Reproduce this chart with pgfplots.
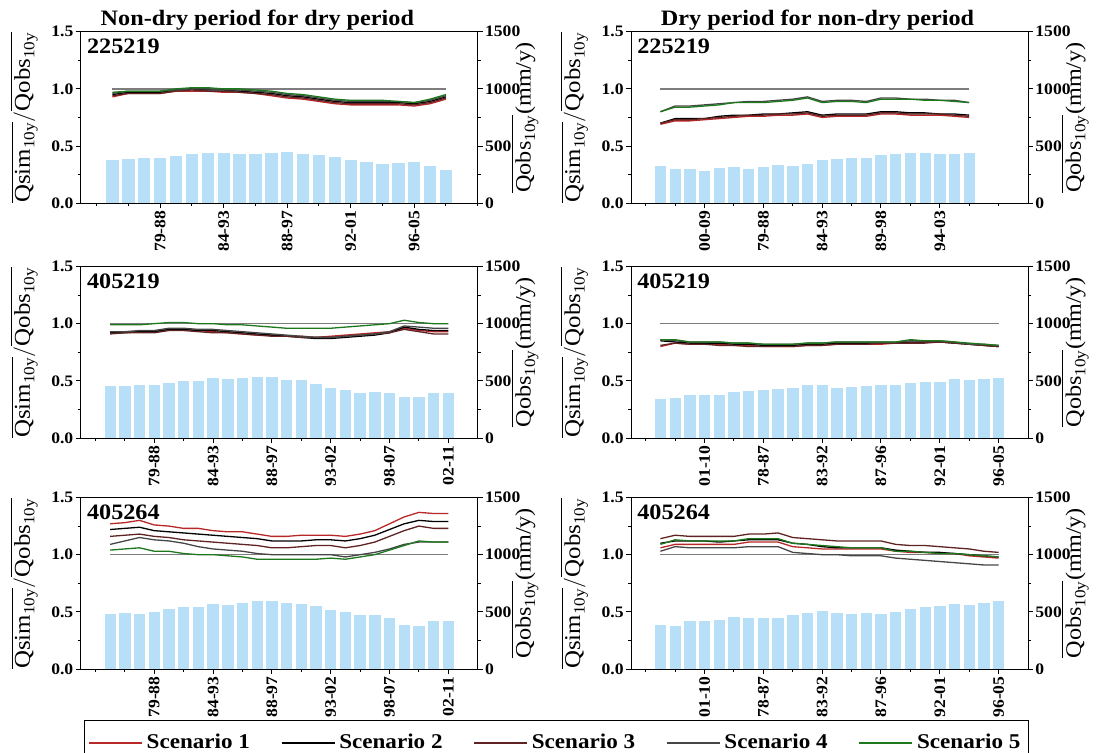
\documentclass[border=0pt]{standalone}
\usepackage{fontspec}
\setmainfont[FakeStretch=1.1]{Liberation Serif}
\usepackage{pgfplots}
\usepackage{pgfplotstable}
\pgfplotsset{compat=1.18}

\definecolor{barblue}{RGB}{183,224,248}
\definecolor{sc1}{RGB}{185,40,40}
\definecolor{sc2}{RGB}{0,0,0}
\definecolor{sc3}{RGB}{95,35,35}
\definecolor{sc4}{RGB}{70,70,70}
\definecolor{sc5}{RGB}{30,120,30}
\definecolor{refgray}{RGB}{125,125,125}

\newcommand{\subtt}[1]{\mbox{\fontsize{7.8}{9}\selectfont #1}}
\newcommand{\qsim}{\overline{\mbox{Qsim}_{\subtt{10y}}}}
\newcommand{\qobs}{\overline{\mbox{Qobs}_{\subtt{10y}}}}

% 225219, non-dry period for dry period
\pgfplotstableread{
x bar s1 s2 s3 s4 s5
1 380 0.93 0.95 0.94 0.96 0.97
2 389 0.96 0.97 0.96 0.98 0.98
3 398 0.96 0.97 0.96 0.98 0.98
4 398 0.96 0.97 0.96 0.98 0.98
5 421 0.98 0.99 0.98 0.99 1.00
6 439 0.98 1.00 0.99 1.00 1.01
7 444 0.98 0.99 0.98 1.00 1.01
8 444 0.97 0.99 0.98 0.99 1.00
9 439 0.97 0.98 0.97 0.99 1.00
10 439 0.96 0.97 0.96 0.98 0.99
11 444 0.94 0.96 0.95 0.97 0.98
12 453 0.92 0.94 0.93 0.95 0.96
13 439 0.91 0.93 0.92 0.94 0.95
14 430 0.89 0.91 0.90 0.92 0.93
15 409 0.87 0.89 0.88 0.90 0.91
16 380 0.86 0.88 0.87 0.89 0.90
17 363 0.86 0.88 0.87 0.89 0.90
18 348 0.86 0.88 0.87 0.89 0.90
19 357 0.86 0.88 0.87 0.89 0.89
20 363 0.85 0.87 0.86 0.88 0.88
21 333 0.87 0.89 0.88 0.90 0.91
22 298 0.91 0.93 0.92 0.94 0.95
}\tA
% 225219, dry period for non-dry period
\pgfplotstableread{
x bar s1 s2 s3 s4 s5
1 333 0.69 0.70 0.70 0.80 0.80
2 301 0.72 0.74 0.73 0.85 0.84
3 301 0.72 0.74 0.73 0.85 0.84
4 284 0.73 0.74 0.74 0.86 0.85
5 310 0.74 0.76 0.75 0.87 0.86
6 319 0.75 0.77 0.76 0.88 0.88
7 307 0.76 0.77 0.77 0.89 0.88
8 325 0.76 0.78 0.77 0.89 0.88
9 339 0.77 0.78 0.78 0.90 0.89
10 333 0.77 0.79 0.78 0.91 0.90
11 348 0.78 0.80 0.79 0.93 0.92
12 380 0.75 0.77 0.76 0.89 0.88
13 392 0.76 0.78 0.77 0.90 0.89
14 401 0.76 0.78 0.77 0.90 0.89
15 401 0.76 0.78 0.77 0.89 0.88
16 424 0.78 0.80 0.79 0.92 0.91
17 439 0.78 0.80 0.79 0.92 0.91
18 447 0.77 0.79 0.78 0.91 0.91
19 447 0.77 0.79 0.78 0.91 0.90
20 439 0.77 0.78 0.78 0.90 0.90
21 439 0.76 0.78 0.77 0.90 0.89
22 447 0.75 0.77 0.76 0.88 0.88
}\tB
% 405219, non-dry period for dry period
\pgfplotstableread{
x bar s1 s2 s3 s4 s5
1 457 0.92 0.92 0.91 0.93 0.99
2 462 0.93 0.92 0.92 0.93 0.99
3 471 0.93 0.93 0.92 0.94 0.99
4 471 0.93 0.93 0.92 0.94 1.00
5 486 0.95 0.95 0.94 0.96 1.01
6 500 0.95 0.95 0.94 0.96 1.01
7 500 0.94 0.94 0.93 0.95 1.00
8 526 0.93 0.94 0.92 0.95 1.00
9 517 0.92 0.93 0.92 0.94 0.99
10 526 0.91 0.92 0.91 0.93 0.99
11 535 0.90 0.91 0.90 0.92 0.98
12 535 0.90 0.90 0.89 0.91 0.97
13 509 0.89 0.89 0.89 0.90 0.96
14 509 0.89 0.88 0.88 0.89 0.96
15 477 0.88 0.87 0.88 0.88 0.96
16 439 0.89 0.87 0.88 0.88 0.96
17 422 0.90 0.88 0.89 0.89 0.97
18 396 0.91 0.89 0.90 0.90 0.98
19 405 0.92 0.90 0.91 0.91 0.99
20 396 0.93 0.92 0.92 0.93 1.00
21 361 0.96 0.97 0.95 0.98 1.03
22 361 0.94 0.95 0.93 0.97 1.01
23 396 0.93 0.94 0.91 0.96 1.00
24 396 0.93 0.94 0.91 0.96 1.00
}\tC
% 405219, dry period for non-dry period
\pgfplotstableread{
x bar s1 s2 s3 s4 s5
1 350 0.80 0.85 0.81 0.86 0.86
2 358 0.83 0.84 0.83 0.85 0.86
3 384 0.82 0.83 0.82 0.84 0.84
4 384 0.82 0.83 0.82 0.84 0.84
5 384 0.82 0.83 0.81 0.84 0.84
6 410 0.81 0.82 0.81 0.83 0.83
7 419 0.81 0.82 0.80 0.83 0.83
8 428 0.80 0.81 0.80 0.82 0.82
9 436 0.80 0.81 0.80 0.82 0.82
10 445 0.80 0.81 0.80 0.82 0.82
11 465 0.81 0.82 0.81 0.83 0.83
12 465 0.81 0.82 0.81 0.83 0.83
13 445 0.82 0.83 0.82 0.84 0.84
14 454 0.82 0.83 0.82 0.84 0.84
15 460 0.82 0.83 0.82 0.84 0.84
16 465 0.82 0.83 0.83 0.84 0.84
17 465 0.83 0.83 0.83 0.84 0.84
18 483 0.83 0.84 0.83 0.85 0.86
19 497 0.84 0.84 0.83 0.85 0.85
20 497 0.84 0.84 0.84 0.85 0.85
21 523 0.83 0.83 0.83 0.84 0.84
22 509 0.82 0.82 0.82 0.82 0.83
23 517 0.81 0.81 0.81 0.82 0.82
24 532 0.80 0.80 0.80 0.81 0.81
}\tD
% 405264, non-dry period for dry period
\pgfplotstableread{
x bar s1 s2 s3 s4 s5
1 485 1.27 1.22 1.16 1.09 1.04
2 494 1.28 1.23 1.17 1.12 1.05
3 485 1.30 1.24 1.18 1.15 1.06
4 503 1.26 1.21 1.16 1.13 1.03
5 529 1.25 1.20 1.15 1.12 1.03
6 547 1.23 1.19 1.13 1.10 1.01
7 547 1.23 1.18 1.12 1.07 1.00
8 576 1.21 1.17 1.11 1.05 1.00
9 567 1.20 1.16 1.10 1.04 0.99
10 585 1.20 1.15 1.09 1.03 0.98
11 602 1.18 1.14 1.08 1.01 0.96
12 602 1.16 1.12 1.06 1.00 0.96
13 585 1.16 1.12 1.06 1.00 0.96
14 576 1.17 1.12 1.07 1.00 0.96
15 553 1.17 1.13 1.08 1.00 0.96
16 520 1.17 1.13 1.08 1.00 0.97
17 503 1.16 1.12 1.06 0.98 0.96
18 480 1.18 1.14 1.08 1.00 0.98
19 480 1.21 1.17 1.11 1.02 1.00
20 450 1.27 1.22 1.16 1.05 1.04
21 392 1.33 1.27 1.21 1.09 1.08
22 383 1.37 1.30 1.25 1.11 1.12
23 424 1.36 1.29 1.23 1.11 1.11
24 424 1.36 1.29 1.23 1.11 1.11
}\tE
% 405264, dry period for non-dry period
\pgfplotstableread{
x bar s1 s2 s3 s4 s5
1 389 1.06 1.10 1.14 1.03 1.09
2 380 1.09 1.12 1.17 1.07 1.13
3 421 1.09 1.12 1.16 1.06 1.12
4 421 1.09 1.12 1.16 1.06 1.12
5 430 1.09 1.11 1.16 1.06 1.12
6 456 1.09 1.12 1.16 1.06 1.12
7 447 1.11 1.13 1.18 1.07 1.14
8 447 1.11 1.13 1.18 1.07 1.14
9 447 1.11 1.13 1.19 1.07 1.14
10 477 1.07 1.10 1.15 1.02 1.10
11 494 1.06 1.09 1.14 1.01 1.09
12 509 1.05 1.07 1.13 1.00 1.08
13 494 1.05 1.06 1.12 1.00 1.07
14 485 1.05 1.06 1.12 0.99 1.06
15 494 1.05 1.06 1.12 0.99 1.06
16 485 1.05 1.06 1.12 0.99 1.06
17 503 1.03 1.04 1.09 0.97 1.03
18 529 1.02 1.03 1.08 0.96 1.03
19 547 1.02 1.02 1.08 0.95 1.02
20 553 1.01 1.02 1.07 0.94 1.01
21 576 1.01 1.01 1.06 0.93 1.01
22 567 0.99 1.00 1.05 0.92 1.00
23 585 0.98 0.99 1.03 0.91 0.99
24 602 0.97 0.98 1.02 0.91 0.98
}\tF

\pgfplotsset{
  base/.style={
    scale only axis, width=198.5pt, height=85.75pt, anchor=north west,
    xmin=-1, xmax=26, ymin=0,
    /pgf/number format/assume math mode=true,
    tick align=outside, major tick length=2.5pt, minor tick length=1.5pt,
    every tick/.style={black, line width=0.5pt},
    axis line style={line width=0.5pt},
    ticklabel style={font=\bfseries\fontsize{8}{9}\selectfont, inner sep=1pt},
  },
  lineax/.style={
    base, ymax=1.5,
    ytick={0,0.5,1,1.5}, minor ytick={0.25,0.75,1.25},
    ytick pos=left, xtick pos=bottom,
    minor xtick={0,2,...,24},
    yticklabel style={/pgf/number format/.cd, fixed, fixed zerofill, precision=1},
    xticklabel style={rotate=90, anchor=east},
    ylabel={$\qsim/\qobs$},
    ylabel style={at={(axis description cs:-0.143,0.5)}, anchor=center, font=\fontsize{11.3}{13}\selectfont},
    every axis title shift=0pt,
    title style={anchor=base, yshift=2.85pt, font=\bfseries\fontsize{11}{13}\selectfont},
  },
  barax/.style={
    base, ymax=1500,
    axis y line*=right, axis x line=none,
    ytick={0,500,1000,1500}, minor ytick={250,750,1250},
    yticklabel style={/pgf/number format/1000 sep={}},
    ylabel={$\qobs$(mm/y)},
    ylabel style={at={(axis description cs:1.119,0.5)}, anchor=center, font=\fontsize{11}{13}\selectfont},
  },
  sline/.style={line width=0.65pt},
  bars/.style={ybar, bar width=0.84, fill=barblue, draw=white, line width=0.4pt},
}
\tikzset{idlabel/.style={anchor=base west, inner sep=0pt, font=\bfseries\fontsize{11}{13}\selectfont}}

\begin{document}
\begin{tikzpicture}
\useasboundingbox (0pt,0pt) rectangle (548.5pt,-376.5pt);
\clip (0pt,0pt) rectangle (548.5pt,-376.5pt);

% ---------- row 1 ----------
\begin{axis}[barax, at={(40.35pt,-15.85pt)}, xmax=24]
  \addplot[bars] table[x=x,y=bar] {\tA};
\end{axis}
\begin{axis}[lineax, at={(40.35pt,-15.85pt)}, xmax=24,
  xtick={4,8,12,16,20}, xticklabels={79-88,84-93,88-97,92-01,96-05},
  title={Non-dry period for dry period}, title style={at={(axis description cs:0.445,1)}}]
  \addplot[refgray, line width=0.7pt, forget plot] coordinates {(1,1) (22,1)};
  \addplot[sc1, sline] table[x=x,y=s1] {\tA};
  \addplot[sc2, sline] table[x=x,y=s2] {\tA};
  \addplot[sc3, sline] table[x=x,y=s3] {\tA};
  \addplot[sc4, sline] table[x=x,y=s4] {\tA};
  \addplot[sc5, sline] table[x=x,y=s5] {\tA};
  \node[idlabel] at (rel axis cs:0.015,0.874) {225219};
\end{axis}

\begin{axis}[barax, at={(315.5pt,-15.85pt)}]
  \addplot[bars] table[x=x,y=bar] {\tB};
\end{axis}
\begin{axis}[lineax, at={(315.5pt,-15.85pt)},
  xtick={4,8,12,16,20}, xticklabels={00-09,79-88,84-93,89-98,94-03},
  title={Dry period for non-dry period}, title style={at={(axis description cs:0.47,1)}}]
  \addplot[refgray, line width=0.7pt, forget plot] coordinates {(1,1) (22,1)};
  \addplot[sc1, sline] table[x=x,y=s1] {\tB};
  \addplot[sc2, sline] table[x=x,y=s2] {\tB};
  \addplot[sc3, sline] table[x=x,y=s3] {\tB};
  \addplot[sc4, sline] table[x=x,y=s4] {\tB};
  \addplot[sc5, sline] table[x=x,y=s5] {\tB};
  \node[idlabel] at (rel axis cs:0.015,0.874) {225219};
\end{axis}

% ---------- row 2 ----------
\begin{axis}[barax, at={(40.35pt,-133.25pt)}]
  \addplot[bars] table[x=x,y=bar] {\tC};
\end{axis}
\begin{axis}[lineax, at={(40.35pt,-133.25pt)},
  xtick={4,8,12,16,20,24}, xticklabels={79-88,84-93,88-97,93-02,98-07,02-11}]
  \addplot[refgray, line width=0.7pt, forget plot] coordinates {(1,1) (24,1)};
  \addplot[sc1, sline] table[x=x,y=s1] {\tC};
  \addplot[sc2, sline] table[x=x,y=s2] {\tC};
  \addplot[sc3, sline] table[x=x,y=s3] {\tC};
  \addplot[sc4, sline] table[x=x,y=s4] {\tC};
  \addplot[sc5, sline] table[x=x,y=s5] {\tC};
  \node[idlabel] at (rel axis cs:0.015,0.874) {405219};
\end{axis}

\begin{axis}[barax, at={(315.5pt,-133.25pt)}]
  \addplot[bars] table[x=x,y=bar] {\tD};
\end{axis}
\begin{axis}[lineax, at={(315.5pt,-133.25pt)},
  xtick={4,8,12,16,20,24}, xticklabels={01-10,78-87,83-92,87-96,92-01,96-05}]
  \addplot[refgray, line width=0.7pt, forget plot] coordinates {(1,1) (24,1)};
  \addplot[sc1, sline] table[x=x,y=s1] {\tD};
  \addplot[sc2, sline] table[x=x,y=s2] {\tD};
  \addplot[sc3, sline] table[x=x,y=s3] {\tD};
  \addplot[sc4, sline] table[x=x,y=s4] {\tD};
  \addplot[sc5, sline] table[x=x,y=s5] {\tD};
  \node[idlabel] at (rel axis cs:0.015,0.874) {405219};
\end{axis}

% ---------- row 3 ----------
\begin{axis}[barax, at={(40.35pt,-248.75pt)}]
  \addplot[bars] table[x=x,y=bar] {\tE};
\end{axis}
\begin{axis}[lineax, at={(40.35pt,-248.75pt)},
  xtick={4,8,12,16,20,24}, xticklabels={79-88,84-93,88-97,93-02,98-07,02-11},
  legend columns=5,
  legend image code/.code={\draw[#1] (0pt,0pt) -- (26.5pt,0pt);},
  legend style={at={(axis description cs:0.0083,-0.297)}, anchor=north west,
    draw=black, inner xsep=2pt, inner ysep=5pt,
    font=\bfseries\fontsize{10.5}{12}\selectfont,
    /tikz/every even column/.append style={column sep=13.5pt}}]
  \addplot[refgray, line width=0.7pt, forget plot] coordinates {(1,1) (24,1)};
  \addplot[sc1, sline] table[x=x,y=s1] {\tE};
  \addlegendentry{Scenario 1}
  \addplot[sc2, sline] table[x=x,y=s2] {\tE};
  \addlegendentry{Scenario 2}
  \addplot[sc3, sline] table[x=x,y=s3] {\tE};
  \addlegendentry{Scenario 3}
  \addplot[sc4, sline] table[x=x,y=s4] {\tE};
  \addlegendentry{Scenario 4}
  \addplot[sc5, sline] table[x=x,y=s5] {\tE};
  \addlegendentry{Scenario 5}
  \node[idlabel] at (rel axis cs:0.015,0.87) {405264};
\end{axis}

\begin{axis}[barax, at={(315.5pt,-248.75pt)}]
  \addplot[bars] table[x=x,y=bar] {\tF};
\end{axis}
\begin{axis}[lineax, at={(315.5pt,-248.75pt)},
  xtick={4,8,12,16,20,24}, xticklabels={01-10,78-87,83-92,87-96,92-01,96-05}]
  \addplot[refgray, line width=0.7pt, forget plot] coordinates {(1,1) (24,1)};
  \addplot[sc1, sline] table[x=x,y=s1] {\tF};
  \addplot[sc2, sline] table[x=x,y=s2] {\tF};
  \addplot[sc3, sline] table[x=x,y=s3] {\tF};
  \addplot[sc4, sline] table[x=x,y=s4] {\tF};
  \addplot[sc5, sline] table[x=x,y=s5] {\tF};
  \node[idlabel] at (rel axis cs:0.015,0.87) {405264};
\end{axis}
\end{tikzpicture}
\end{document}
